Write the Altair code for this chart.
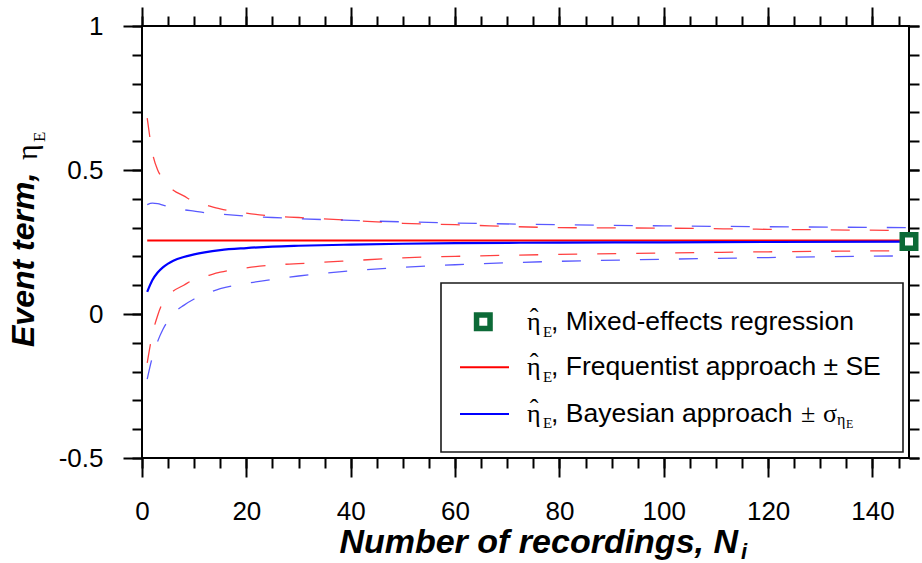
import altair as alt
import pandas as pd

# ---------------- data ----------------
N = [1, 2, 3, 4, 5, 6, 8, 10, 12, 15, 20, 25, 30, 40, 50, 60, 80, 100, 120, 147]
freq_mean = [0.255] * 20
freq_upper = [0.68, 0.56, 0.50, 0.47, 0.445, 0.43, 0.41, 0.39, 0.38, 0.365,
              0.35, 0.34, 0.335, 0.325, 0.315, 0.31, 0.30, 0.298, 0.294, 0.29]
freq_lower = [-0.17, -0.07, -0.005, 0.04, 0.065, 0.08, 0.10, 0.12, 0.13, 0.145,
              0.16, 0.17, 0.175, 0.185, 0.195, 0.20, 0.207, 0.212, 0.216, 0.22]
bayes_mean = [0.077, 0.118, 0.144, 0.162, 0.175, 0.185, 0.198, 0.207, 0.214, 0.222,
              0.229, 0.234, 0.237, 0.241, 0.244, 0.246, 0.248, 0.249, 0.250, 0.251]
bayes_upper = [0.380, 0.385, 0.383, 0.378, 0.373, 0.369, 0.362, 0.357, 0.352, 0.347,
               0.340, 0.335, 0.331, 0.325, 0.320, 0.316, 0.310, 0.306, 0.303, 0.300]
bayes_lower = [-0.226, -0.149, -0.095, -0.054, -0.023, 0.001, 0.030, 0.052, 0.068, 0.088,
               0.106, 0.120, 0.132, 0.150, 0.162, 0.171, 0.183, 0.190, 0.196, 0.202]
mixed_N = [147]
mixed_eta = [0.252]

x_major = [0, 20, 40, 60, 80, 100, 120, 140]
x_minor = list(range(0, 150, 5))
y_major = [-0.5, 0, 0.5, 1]
y_minor = [-0.5, -0.4, -0.3, -0.2, -0.1, 0, 0.1, 0.2, 0.3, 0.4, 0.5, 0.6, 0.7, 0.8, 0.9, 1.0]

legend_labels = ["Mixed-effects regression", "Frequentist approach \u00b1 SE", "Bayesian approach "]

# ---------------- styling ----------------
FONT = "Liberation Sans"
SERIF = "Liberation Serif"
RED = "#ff0000"
BLUE = "#0000ff"
GREEN = "#0c6a37"
W, H = 767, 432

x_scale = alt.Scale(domain=[0, 147], nice=False, zero=False)
y_scale = alt.Scale(domain=[-0.5, 1], nice=False, zero=False)


def axis(orient, values, size, labels=False, pad=0):
    kw = dict(orient=orient, values=values, tickSize=size, labels=labels, domain=False,
              grid=False, title=None, ticks=True, tickColor="black", tickWidth=2)
    if labels:
        kw.update(labelFont=FONT, labelFontSize=26, labelColor="black", labelPadding=pad,
                  labelExpr="'' + datum.value", labelOverlap=False, labelFlush=False)
    return alt.Axis(**kw)


def line_layer(vals, color, width, dash=None, opacity=1.0, xaxis=None, yaxis=None, dash_offset=0):
    df = pd.DataFrame({"N": N, "v": vals})
    mk = dict(color=color, strokeWidth=width, interpolate="monotone", opacity=opacity, clip=True)
    if dash:
        mk.update(strokeDash=dash, strokeDashOffset=dash_offset)
    return alt.Chart(df).mark_line(**mk).encode(
        x=alt.X("N:Q", scale=x_scale, axis=xaxis),
        y=alt.Y("v:Q", scale=y_scale, axis=yaxis),
    )


one = pd.DataFrame({"k": [0]})


def txt(s, x, y, size=26, font=FONT, bold=False, italic=False, align="left", angle=0):
    return alt.Chart(one).mark_text(
        text=s, font=font, fontSize=size, fontWeight="bold" if bold else "normal",
        fontStyle="italic" if italic else "normal", align=align, baseline="alphabetic",
        angle=angle, color="black",
    ).encode(x=alt.value(x), y=alt.value(y))


DASH = [19, 20]
layers = [
    line_layer(freq_upper, RED, 1.3, DASH, 0.75,
               xaxis=axis("bottom", x_minor, 10), yaxis=axis("left", y_minor, 10)),
    line_layer(freq_lower, RED, 1.3, DASH, 0.75,
               xaxis=axis("top", x_major, 19), yaxis=axis("right", y_major, 10)),
    line_layer(bayes_upper, BLUE, 1.3, DASH, 0.65,
               xaxis=axis("top", x_minor, 10), yaxis=axis("right", y_minor, 10)),
    line_layer(bayes_lower, BLUE, 1.3, DASH, 0.65),
    line_layer(freq_mean, RED, 2.0),
    line_layer(bayes_mean, BLUE, 2.2,
               xaxis=axis("bottom", x_major, 19, True, 21), yaxis=axis("left", y_major, 19, True, 20)),
]

# legend box
layers.append(
    alt.Chart(one).mark_rect(fill="white", stroke="#1a1a1a", strokeWidth=1.6).encode(
        x=alt.value(299), x2=alt.value(761), y=alt.value(257), y2=alt.value(426))
)
# legend symbols
layers.append(
    alt.Chart(one).mark_point(shape="square", filled=True, fill="white", stroke=GREEN,
                              strokeWidth=5.5, size=182, opacity=1).encode(
        x=alt.value(341.3), y=alt.value(295.7))
)
layers.append(alt.Chart(one).mark_rule(color=RED, strokeWidth=2).encode(
    x=alt.value(318), x2=alt.value(367), y=alt.value(341.3)))
layers.append(alt.Chart(one).mark_rule(color=BLUE, strokeWidth=2).encode(
    x=alt.value(318), x2=alt.value(367), y=alt.value(388)))

# legend texts
for base, lab in zip([304, 349, 395.7], legend_labels):
    layers.append(txt("\u03b7", 385, base, 26, SERIF))
    layers.append(txt("\u02c6", 392, base - 4.5, 26, SERIF, align="center"))
    layers.append(txt("E", 401, base + 6.5, 15, SERIF))
    layers.append(txt(", " + lab, 409, base, 26.5))
layers.append(txt("\u00b1", 659, 395.7, 26, SERIF))
layers.append(txt("\u03c3", 681, 395.7, 26, SERIF))
layers.append(txt("\u03b7", 695, 399, 16, SERIF))
layers.append(txt("E", 704, 402, 12, SERIF))

# axis titles
layers.append(txt("Number of recordings, N", 596, 527, 34, FONT, True, True, align="right"))
layers.append(txt("i", 599, 533, 22, FONT, True, True))
layers.append(txt("Event term, ", -108, 321, 32, FONT, True, True, angle=270))
layers.append(txt("\u03b7", -105, 134, 30, SERIF, angle=270))
layers.append(txt("E", -97, 116, 17, SERIF, angle=270))

# mixed-effects marker (drawn last, over the frame)
mixed_df = pd.DataFrame({"N": mixed_N, "v": mixed_eta})
layers.append(
    alt.Chart(mixed_df).mark_point(shape="square", filled=True, fill="white", stroke=GREEN,
                                   strokeWidth=5.5, size=182, opacity=1, clip=False).encode(
        x=alt.X("N:Q", scale=x_scale, axis=None), y=alt.Y("v:Q", scale=y_scale, axis=None))
)

chart = (
    alt.layer(*layers)
    .resolve_axis(x="independent", y="independent")
    .properties(width=W, height=H, autosize=alt.AutoSizeParams(type="none"),
                padding={"left": 142, "top": 26, "right": 13, "bottom": 105},
                background="white")
    .configure_view(stroke="black", strokeWidth=2)
)

chart.save("out.html", embed_options={"renderer": "svg", "actions": False})
